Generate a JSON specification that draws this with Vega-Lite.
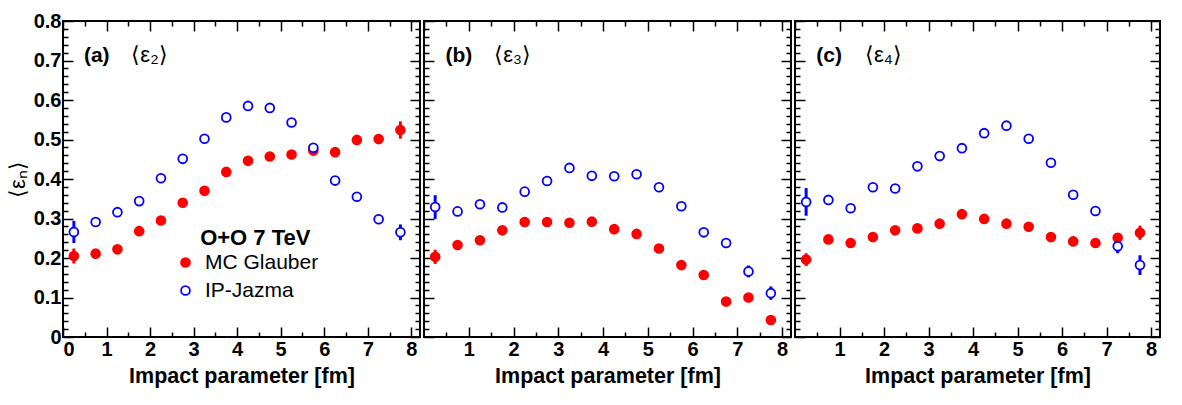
{
  "$schema": "https://vega.github.io/schema/vega-lite/v6.json",
  "background": "white",
  "padding": {"left": 5, "top": 10, "right": 5, "bottom": 5},
  "spacing": 0,
  "datasets": {
    "pts": [
      {"panel":"a","model":"MC Glauber","b":0.25,"eps":0.205,"lo":0.186,"hi":0.224},
      {"panel":"a","model":"MC Glauber","b":0.75,"eps":0.211,"lo":0.207,"hi":0.215},
      {"panel":"a","model":"MC Glauber","b":1.25,"eps":0.222,"lo":0.218,"hi":0.226},
      {"panel":"a","model":"MC Glauber","b":1.75,"eps":0.268,"lo":0.264,"hi":0.272},
      {"panel":"a","model":"MC Glauber","b":2.25,"eps":0.295,"lo":0.291,"hi":0.299},
      {"panel":"a","model":"MC Glauber","b":2.75,"eps":0.340,"lo":0.336,"hi":0.344},
      {"panel":"a","model":"MC Glauber","b":3.25,"eps":0.370,"lo":0.366,"hi":0.374},
      {"panel":"a","model":"MC Glauber","b":3.75,"eps":0.418,"lo":0.414,"hi":0.422},
      {"panel":"a","model":"MC Glauber","b":4.25,"eps":0.446,"lo":0.442,"hi":0.450},
      {"panel":"a","model":"MC Glauber","b":4.75,"eps":0.457,"lo":0.453,"hi":0.461},
      {"panel":"a","model":"MC Glauber","b":5.25,"eps":0.462,"lo":0.458,"hi":0.466},
      {"panel":"a","model":"MC Glauber","b":5.75,"eps":0.472,"lo":0.468,"hi":0.476},
      {"panel":"a","model":"MC Glauber","b":6.25,"eps":0.468,"lo":0.464,"hi":0.472},
      {"panel":"a","model":"MC Glauber","b":6.75,"eps":0.499,"lo":0.495,"hi":0.503},
      {"panel":"a","model":"MC Glauber","b":7.25,"eps":0.501,"lo":0.489,"hi":0.513},
      {"panel":"a","model":"MC Glauber","b":7.75,"eps":0.524,"lo":0.502,"hi":0.546},
      {"panel":"b","model":"MC Glauber","b":0.25,"eps":0.203,"lo":0.185,"hi":0.221},
      {"panel":"b","model":"MC Glauber","b":0.75,"eps":0.233,"lo":0.229,"hi":0.237},
      {"panel":"b","model":"MC Glauber","b":1.25,"eps":0.245,"lo":0.241,"hi":0.249},
      {"panel":"b","model":"MC Glauber","b":1.75,"eps":0.270,"lo":0.266,"hi":0.274},
      {"panel":"b","model":"MC Glauber","b":2.25,"eps":0.291,"lo":0.287,"hi":0.295},
      {"panel":"b","model":"MC Glauber","b":2.75,"eps":0.291,"lo":0.287,"hi":0.295},
      {"panel":"b","model":"MC Glauber","b":3.25,"eps":0.289,"lo":0.285,"hi":0.293},
      {"panel":"b","model":"MC Glauber","b":3.75,"eps":0.292,"lo":0.288,"hi":0.296},
      {"panel":"b","model":"MC Glauber","b":4.25,"eps":0.273,"lo":0.269,"hi":0.277},
      {"panel":"b","model":"MC Glauber","b":4.75,"eps":0.261,"lo":0.257,"hi":0.265},
      {"panel":"b","model":"MC Glauber","b":5.25,"eps":0.224,"lo":0.220,"hi":0.228},
      {"panel":"b","model":"MC Glauber","b":5.75,"eps":0.182,"lo":0.178,"hi":0.186},
      {"panel":"b","model":"MC Glauber","b":6.25,"eps":0.157,"lo":0.153,"hi":0.161},
      {"panel":"b","model":"MC Glauber","b":6.75,"eps":0.090,"lo":0.086,"hi":0.094},
      {"panel":"b","model":"MC Glauber","b":7.25,"eps":0.100,"lo":0.096,"hi":0.104},
      {"panel":"b","model":"MC Glauber","b":7.75,"eps":0.043,"lo":0.039,"hi":0.047},
      {"panel":"c","model":"MC Glauber","b":0.25,"eps":0.196,"lo":0.180,"hi":0.212},
      {"panel":"c","model":"MC Glauber","b":0.75,"eps":0.247,"lo":0.237,"hi":0.257},
      {"panel":"c","model":"MC Glauber","b":1.25,"eps":0.238,"lo":0.234,"hi":0.242},
      {"panel":"c","model":"MC Glauber","b":1.75,"eps":0.253,"lo":0.249,"hi":0.257},
      {"panel":"c","model":"MC Glauber","b":2.25,"eps":0.270,"lo":0.266,"hi":0.274},
      {"panel":"c","model":"MC Glauber","b":2.75,"eps":0.275,"lo":0.271,"hi":0.279},
      {"panel":"c","model":"MC Glauber","b":3.25,"eps":0.287,"lo":0.283,"hi":0.291},
      {"panel":"c","model":"MC Glauber","b":3.75,"eps":0.311,"lo":0.307,"hi":0.315},
      {"panel":"c","model":"MC Glauber","b":4.25,"eps":0.299,"lo":0.295,"hi":0.303},
      {"panel":"c","model":"MC Glauber","b":4.75,"eps":0.287,"lo":0.283,"hi":0.291},
      {"panel":"c","model":"MC Glauber","b":5.25,"eps":0.279,"lo":0.275,"hi":0.283},
      {"panel":"c","model":"MC Glauber","b":5.75,"eps":0.253,"lo":0.249,"hi":0.257},
      {"panel":"c","model":"MC Glauber","b":6.25,"eps":0.242,"lo":0.238,"hi":0.246},
      {"panel":"c","model":"MC Glauber","b":6.75,"eps":0.238,"lo":0.234,"hi":0.242},
      {"panel":"c","model":"MC Glauber","b":7.25,"eps":0.251,"lo":0.243,"hi":0.259},
      {"panel":"c","model":"MC Glauber","b":7.75,"eps":0.264,"lo":0.246,"hi":0.282},
      {"panel":"a","model":"IP-Jazma","b":0.25,"eps":0.266,"lo":0.238,"hi":0.294},
      {"panel":"a","model":"IP-Jazma","b":0.75,"eps":0.291,"lo":0.287,"hi":0.295},
      {"panel":"a","model":"IP-Jazma","b":1.25,"eps":0.316,"lo":0.312,"hi":0.320},
      {"panel":"a","model":"IP-Jazma","b":1.75,"eps":0.344,"lo":0.340,"hi":0.348},
      {"panel":"a","model":"IP-Jazma","b":2.25,"eps":0.402,"lo":0.398,"hi":0.406},
      {"panel":"a","model":"IP-Jazma","b":2.75,"eps":0.451,"lo":0.447,"hi":0.455},
      {"panel":"a","model":"IP-Jazma","b":3.25,"eps":0.502,"lo":0.498,"hi":0.506},
      {"panel":"a","model":"IP-Jazma","b":3.75,"eps":0.556,"lo":0.552,"hi":0.560},
      {"panel":"a","model":"IP-Jazma","b":4.25,"eps":0.585,"lo":0.581,"hi":0.589},
      {"panel":"a","model":"IP-Jazma","b":4.75,"eps":0.580,"lo":0.576,"hi":0.584},
      {"panel":"a","model":"IP-Jazma","b":5.25,"eps":0.543,"lo":0.539,"hi":0.547},
      {"panel":"a","model":"IP-Jazma","b":5.75,"eps":0.479,"lo":0.475,"hi":0.483},
      {"panel":"a","model":"IP-Jazma","b":6.25,"eps":0.396,"lo":0.392,"hi":0.400},
      {"panel":"a","model":"IP-Jazma","b":6.75,"eps":0.355,"lo":0.351,"hi":0.359},
      {"panel":"a","model":"IP-Jazma","b":7.25,"eps":0.298,"lo":0.286,"hi":0.310},
      {"panel":"a","model":"IP-Jazma","b":7.75,"eps":0.265,"lo":0.245,"hi":0.285},
      {"panel":"b","model":"IP-Jazma","b":0.25,"eps":0.329,"lo":0.299,"hi":0.359},
      {"panel":"b","model":"IP-Jazma","b":0.75,"eps":0.318,"lo":0.309,"hi":0.327},
      {"panel":"b","model":"IP-Jazma","b":1.25,"eps":0.336,"lo":0.332,"hi":0.340},
      {"panel":"b","model":"IP-Jazma","b":1.75,"eps":0.328,"lo":0.324,"hi":0.332},
      {"panel":"b","model":"IP-Jazma","b":2.25,"eps":0.368,"lo":0.364,"hi":0.372},
      {"panel":"b","model":"IP-Jazma","b":2.75,"eps":0.395,"lo":0.391,"hi":0.399},
      {"panel":"b","model":"IP-Jazma","b":3.25,"eps":0.428,"lo":0.424,"hi":0.432},
      {"panel":"b","model":"IP-Jazma","b":3.75,"eps":0.408,"lo":0.404,"hi":0.412},
      {"panel":"b","model":"IP-Jazma","b":4.25,"eps":0.407,"lo":0.403,"hi":0.411},
      {"panel":"b","model":"IP-Jazma","b":4.75,"eps":0.412,"lo":0.408,"hi":0.416},
      {"panel":"b","model":"IP-Jazma","b":5.25,"eps":0.379,"lo":0.375,"hi":0.383},
      {"panel":"b","model":"IP-Jazma","b":5.75,"eps":0.331,"lo":0.327,"hi":0.335},
      {"panel":"b","model":"IP-Jazma","b":6.25,"eps":0.265,"lo":0.261,"hi":0.269},
      {"panel":"b","model":"IP-Jazma","b":6.75,"eps":0.238,"lo":0.234,"hi":0.242},
      {"panel":"b","model":"IP-Jazma","b":7.25,"eps":0.166,"lo":0.151,"hi":0.181},
      {"panel":"b","model":"IP-Jazma","b":7.75,"eps":0.111,"lo":0.094,"hi":0.128},
      {"panel":"c","model":"IP-Jazma","b":0.25,"eps":0.342,"lo":0.307,"hi":0.377},
      {"panel":"c","model":"IP-Jazma","b":0.75,"eps":0.347,"lo":0.337,"hi":0.357},
      {"panel":"c","model":"IP-Jazma","b":1.25,"eps":0.326,"lo":0.322,"hi":0.330},
      {"panel":"c","model":"IP-Jazma","b":1.75,"eps":0.379,"lo":0.375,"hi":0.383},
      {"panel":"c","model":"IP-Jazma","b":2.25,"eps":0.376,"lo":0.372,"hi":0.380},
      {"panel":"c","model":"IP-Jazma","b":2.75,"eps":0.432,"lo":0.428,"hi":0.436},
      {"panel":"c","model":"IP-Jazma","b":3.25,"eps":0.458,"lo":0.454,"hi":0.462},
      {"panel":"c","model":"IP-Jazma","b":3.75,"eps":0.478,"lo":0.474,"hi":0.482},
      {"panel":"c","model":"IP-Jazma","b":4.25,"eps":0.516,"lo":0.512,"hi":0.520},
      {"panel":"c","model":"IP-Jazma","b":4.75,"eps":0.535,"lo":0.531,"hi":0.539},
      {"panel":"c","model":"IP-Jazma","b":5.25,"eps":0.502,"lo":0.498,"hi":0.506},
      {"panel":"c","model":"IP-Jazma","b":5.75,"eps":0.441,"lo":0.437,"hi":0.445},
      {"panel":"c","model":"IP-Jazma","b":6.25,"eps":0.360,"lo":0.356,"hi":0.364},
      {"panel":"c","model":"IP-Jazma","b":6.75,"eps":0.319,"lo":0.307,"hi":0.331},
      {"panel":"c","model":"IP-Jazma","b":7.25,"eps":0.230,"lo":0.212,"hi":0.248},
      {"panel":"c","model":"IP-Jazma","b":7.75,"eps":0.182,"lo":0.157,"hi":0.207}
    ],
    "labels": [
      {"panel":"a","tag":"(a)","quantity":"⟨ε₂⟩"},
      {"panel":"b","tag":"(b)","quantity":"⟨ε₃⟩"},
      {"panel":"c","tag":"(c)","quantity":"⟨ε₄⟩"}
    ],
    "system": [{"text":"O+O 7 TeV"}]
  },
  "hconcat": [
    {
      "width": 357, "height": 316,
      "layer": [
        {
          "data": {"name": "pts"},
          "transform": [{"filter": "datum.panel === 'a' && datum.model === 'MC Glauber'"}],
          "mark": {"type": "rule", "color": "#ff0000", "strokeWidth": 3},
          "encoding": {
            "x": {"field": "b", "type": "quantitative", "scale": {"domain": [0, 8.2], "nice": false, "zero": false},
                  "axis": {"orient": "bottom", "values": [0.5,1.5,2.5,3.5,4.5,5.5,6.5,7.5], "tickSize": -5, "labels": false, "title": null}},
            "y": {"field": "lo", "type": "quantitative", "scale": {"domain": [0, 0.8], "nice": false},
                  "axis": {"orient": "left", "values": [0.02,0.04,0.06,0.08,0.12,0.14,0.16,0.18,0.22,0.24,0.26,0.28,0.32,0.34,0.36,0.38,0.42,0.44,0.46,0.48,0.52,0.54,0.56,0.58,0.62,0.64,0.66,0.68,0.72,0.74,0.76,0.78], "tickSize": -5, "labels": false, "title": null}},
            "y2": {"field": "hi"}
          }
        },
        {
          "data": {"name": "pts"},
          "transform": [{"filter": "datum.panel === 'a' && datum.model === 'IP-Jazma'"}],
          "mark": {"type": "rule", "color": "#0000ff", "strokeWidth": 3},
          "encoding": {
            "x": {"field": "b", "type": "quantitative", "scale": {"domain": [0, 8.2], "nice": false, "zero": false},
                  "axis": {"orient": "top", "values": [0.5,1.5,2.5,3.5,4.5,5.5,6.5,7.5], "tickSize": -5, "labels": false, "title": null}},
            "y": {"field": "lo", "type": "quantitative", "scale": {"domain": [0, 0.8], "nice": false},
                  "axis": {"orient": "right", "values": [0.02,0.04,0.06,0.08,0.12,0.14,0.16,0.18,0.22,0.24,0.26,0.28,0.32,0.34,0.36,0.38,0.42,0.44,0.46,0.48,0.52,0.54,0.56,0.58,0.62,0.64,0.66,0.68,0.72,0.74,0.76,0.78], "tickSize": -5, "labels": false, "title": null}},
            "y2": {"field": "hi"}
          }
        },
        {
          "data": {"name": "pts"},
          "transform": [{"filter": "datum.panel === 'a'"}],
          "mark": {"type": "point", "shape": "circle", "size": 78, "strokeWidth": 1.8, "opacity": 1, "fillOpacity": 1},
          "encoding": {
            "x": {"field": "b", "type": "quantitative", "scale": {"domain": [0, 8.2], "nice": false, "zero": false},
                  "axis": {"orient": "bottom", "values": [0,1,2,3,4,5,6,7,8], "tickSize": -10, "labelPadding": 12, "title": "Impact parameter [fm]"}},
            "y": {"field": "eps", "type": "quantitative", "scale": {"domain": [0, 0.8], "nice": false},
                  "axis": {"orient": "left", "values": [0,0.1,0.2,0.3,0.4,0.5,0.6,0.7,0.8], "tickSize": -10, "labelPadding": 12, "labelExpr": "datum.value === 0 ? '0' : format(datum.value, '.1f')", "title": "⟨εₙ⟩", "titleFontWeight": "normal", "titleFontSize": 22, "titlePadding": 4}},
            "fill": {"field": "model", "type": "nominal", "scale": {"domain": ["MC Glauber", "IP-Jazma"], "range": ["#ff0000", "#ffffff"]},
                     "legend": {"orient": "none", "legendX": 112, "legendY": 231, "title": null}},
            "stroke": {"field": "model", "type": "nominal", "scale": {"domain": ["MC Glauber", "IP-Jazma"], "range": ["#ff0000", "#0000ff"]},
                       "legend": {"orient": "none", "legendX": 112, "legendY": 231, "title": null}},
            "order": {"field": "model", "sort": "descending"}
          }
        },
        {
          "data": {"name": "labels"},
          "transform": [{"filter": "datum.panel === 'a'"}],
          "mark": {"type": "text", "align": "left", "baseline": "alphabetic", "fontWeight": "bold", "fontSize": 21, "font": "Liberation Sans", "color": "black"},
          "encoding": {
            "x": {"datum": 0.48, "type": "quantitative", "scale": {"domain": [0, 8.2], "nice": false, "zero": false},
                  "axis": {"orient": "top", "values": [0,1,2,3,4,5,6,7,8], "tickSize": -10, "labels": false, "title": null}},
            "y": {"datum": 0.696, "type": "quantitative", "scale": {"domain": [0, 0.8], "nice": false},
                  "axis": {"orient": "right", "values": [0,0.1,0.2,0.3,0.4,0.5,0.6,0.7,0.8], "tickSize": -10, "labels": false, "title": null}},
            "text": {"field": "tag"}
          }
        },
        {
          "data": {"name": "labels"},
          "transform": [{"filter": "datum.panel === 'a'"}],
          "mark": {"type": "text", "align": "left", "baseline": "alphabetic", "fontSize": 22, "font": "Liberation Sans", "color": "black"},
          "encoding": {
            "x": {"datum": 1.57, "type": "quantitative", "axis": null},
            "y": {"datum": 0.696, "type": "quantitative", "axis": null},
            "text": {"field": "quantity"}
          }
        },
        {
          "data": {"name": "system"},
          "mark": {"type": "text", "align": "left", "baseline": "alphabetic", "fontWeight": "bold", "fontSize": 22, "font": "Liberation Sans", "color": "black"},
          "encoding": {
            "x": {"datum": 3.15, "type": "quantitative", "axis": null},
            "y": {"datum": 0.233, "type": "quantitative", "axis": null},
            "text": {"field": "text"}
          }
        }
      ],
      "resolve": {"axis": {"x": "independent", "y": "independent"}}
    },
    {
      "width": 367, "height": 316,
      "layer": [
        {
          "data": {"name": "pts"},
          "transform": [{"filter": "datum.panel === 'b' && datum.model === 'MC Glauber'"}],
          "mark": {"type": "rule", "color": "#ff0000", "strokeWidth": 3},
          "encoding": {
            "x": {"field": "b", "type": "quantitative", "scale": {"domain": [0, 8.2], "nice": false, "zero": false},
                  "axis": {"orient": "bottom", "values": [0.5,1.5,2.5,3.5,4.5,5.5,6.5,7.5], "tickSize": -5, "labels": false, "title": null}},
            "y": {"field": "lo", "type": "quantitative", "scale": {"domain": [0, 0.8], "nice": false},
                  "axis": {"orient": "left", "values": [0.02,0.04,0.06,0.08,0.12,0.14,0.16,0.18,0.22,0.24,0.26,0.28,0.32,0.34,0.36,0.38,0.42,0.44,0.46,0.48,0.52,0.54,0.56,0.58,0.62,0.64,0.66,0.68,0.72,0.74,0.76,0.78], "tickSize": -5, "labels": false, "title": null}},
            "y2": {"field": "hi"}
          }
        },
        {
          "data": {"name": "pts"},
          "transform": [{"filter": "datum.panel === 'b' && datum.model === 'IP-Jazma'"}],
          "mark": {"type": "rule", "color": "#0000ff", "strokeWidth": 3},
          "encoding": {
            "x": {"field": "b", "type": "quantitative", "scale": {"domain": [0, 8.2], "nice": false, "zero": false},
                  "axis": {"orient": "top", "values": [0.5,1.5,2.5,3.5,4.5,5.5,6.5,7.5], "tickSize": -5, "labels": false, "title": null}},
            "y": {"field": "lo", "type": "quantitative", "scale": {"domain": [0, 0.8], "nice": false},
                  "axis": {"orient": "right", "values": [0.02,0.04,0.06,0.08,0.12,0.14,0.16,0.18,0.22,0.24,0.26,0.28,0.32,0.34,0.36,0.38,0.42,0.44,0.46,0.48,0.52,0.54,0.56,0.58,0.62,0.64,0.66,0.68,0.72,0.74,0.76,0.78], "tickSize": -5, "labels": false, "title": null}},
            "y2": {"field": "hi"}
          }
        },
        {
          "data": {"name": "pts"},
          "transform": [{"filter": "datum.panel === 'b'"}],
          "mark": {"type": "point", "shape": "circle", "size": 78, "strokeWidth": 1.8, "opacity": 1, "fillOpacity": 1},
          "encoding": {
            "x": {"field": "b", "type": "quantitative", "scale": {"domain": [0, 8.2], "nice": false, "zero": false},
                  "axis": {"orient": "bottom", "values": [1,2,3,4,5,6,7,8], "tickSize": -10, "labelPadding": 12, "title": "Impact parameter [fm]"}},
            "y": {"field": "eps", "type": "quantitative", "scale": {"domain": [0, 0.8], "nice": false},
                  "axis": {"orient": "left", "values": [0,0.1,0.2,0.3,0.4,0.5,0.6,0.7,0.8], "tickSize": -10, "labels": false, "title": null}},
            "fill": {"field": "model", "type": "nominal", "scale": {"domain": ["MC Glauber", "IP-Jazma"], "range": ["#ff0000", "#ffffff"]}, "legend": null},
            "stroke": {"field": "model", "type": "nominal", "scale": {"domain": ["MC Glauber", "IP-Jazma"], "range": ["#ff0000", "#0000ff"]}, "legend": null},
            "order": {"field": "model", "sort": "descending"}
          }
        },
        {
          "data": {"name": "labels"},
          "transform": [{"filter": "datum.panel === 'b'"}],
          "mark": {"type": "text", "align": "left", "baseline": "alphabetic", "fontWeight": "bold", "fontSize": 21, "font": "Liberation Sans", "color": "black"},
          "encoding": {
            "x": {"datum": 0.48, "type": "quantitative", "scale": {"domain": [0, 8.2], "nice": false, "zero": false},
                  "axis": {"orient": "top", "values": [0,1,2,3,4,5,6,7,8], "tickSize": -10, "labels": false, "title": null}},
            "y": {"datum": 0.696, "type": "quantitative", "scale": {"domain": [0, 0.8], "nice": false},
                  "axis": {"orient": "right", "values": [0,0.1,0.2,0.3,0.4,0.5,0.6,0.7,0.8], "tickSize": -10, "labels": false, "title": null}},
            "text": {"field": "tag"}
          }
        },
        {
          "data": {"name": "labels"},
          "transform": [{"filter": "datum.panel === 'b'"}],
          "mark": {"type": "text", "align": "left", "baseline": "alphabetic", "fontSize": 22, "font": "Liberation Sans", "color": "black"},
          "encoding": {
            "x": {"datum": 1.57, "type": "quantitative", "axis": null},
            "y": {"datum": 0.696, "type": "quantitative", "axis": null},
            "text": {"field": "quantity"}
          }
        }
      ],
      "resolve": {"axis": {"x": "independent", "y": "independent"}}
    },
    {
      "width": 365, "height": 316,
      "layer": [
        {
          "data": {"name": "pts"},
          "transform": [{"filter": "datum.panel === 'c' && datum.model === 'MC Glauber'"}],
          "mark": {"type": "rule", "color": "#ff0000", "strokeWidth": 3},
          "encoding": {
            "x": {"field": "b", "type": "quantitative", "scale": {"domain": [0, 8.2], "nice": false, "zero": false},
                  "axis": {"orient": "bottom", "values": [0.5,1.5,2.5,3.5,4.5,5.5,6.5,7.5], "tickSize": -5, "labels": false, "title": null}},
            "y": {"field": "lo", "type": "quantitative", "scale": {"domain": [0, 0.8], "nice": false},
                  "axis": {"orient": "left", "values": [0.02,0.04,0.06,0.08,0.12,0.14,0.16,0.18,0.22,0.24,0.26,0.28,0.32,0.34,0.36,0.38,0.42,0.44,0.46,0.48,0.52,0.54,0.56,0.58,0.62,0.64,0.66,0.68,0.72,0.74,0.76,0.78], "tickSize": -5, "labels": false, "title": null}},
            "y2": {"field": "hi"}
          }
        },
        {
          "data": {"name": "pts"},
          "transform": [{"filter": "datum.panel === 'c' && datum.model === 'IP-Jazma'"}],
          "mark": {"type": "rule", "color": "#0000ff", "strokeWidth": 3},
          "encoding": {
            "x": {"field": "b", "type": "quantitative", "scale": {"domain": [0, 8.2], "nice": false, "zero": false},
                  "axis": {"orient": "top", "values": [0.5,1.5,2.5,3.5,4.5,5.5,6.5,7.5], "tickSize": -5, "labels": false, "title": null}},
            "y": {"field": "lo", "type": "quantitative", "scale": {"domain": [0, 0.8], "nice": false},
                  "axis": {"orient": "right", "values": [0.02,0.04,0.06,0.08,0.12,0.14,0.16,0.18,0.22,0.24,0.26,0.28,0.32,0.34,0.36,0.38,0.42,0.44,0.46,0.48,0.52,0.54,0.56,0.58,0.62,0.64,0.66,0.68,0.72,0.74,0.76,0.78], "tickSize": -5, "labels": false, "title": null}},
            "y2": {"field": "hi"}
          }
        },
        {
          "data": {"name": "pts"},
          "transform": [{"filter": "datum.panel === 'c'"}],
          "mark": {"type": "point", "shape": "circle", "size": 78, "strokeWidth": 1.8, "opacity": 1, "fillOpacity": 1},
          "encoding": {
            "x": {"field": "b", "type": "quantitative", "scale": {"domain": [0, 8.2], "nice": false, "zero": false},
                  "axis": {"orient": "bottom", "values": [1,2,3,4,5,6,7,8], "tickSize": -10, "labelPadding": 12, "title": "Impact parameter [fm]"}},
            "y": {"field": "eps", "type": "quantitative", "scale": {"domain": [0, 0.8], "nice": false},
                  "axis": {"orient": "left", "values": [0,0.1,0.2,0.3,0.4,0.5,0.6,0.7,0.8], "tickSize": -10, "labels": false, "title": null}},
            "fill": {"field": "model", "type": "nominal", "scale": {"domain": ["MC Glauber", "IP-Jazma"], "range": ["#ff0000", "#ffffff"]}, "legend": null},
            "stroke": {"field": "model", "type": "nominal", "scale": {"domain": ["MC Glauber", "IP-Jazma"], "range": ["#ff0000", "#0000ff"]}, "legend": null},
            "order": {"field": "model", "sort": "descending"}
          }
        },
        {
          "data": {"name": "labels"},
          "transform": [{"filter": "datum.panel === 'c'"}],
          "mark": {"type": "text", "align": "left", "baseline": "alphabetic", "fontWeight": "bold", "fontSize": 21, "font": "Liberation Sans", "color": "black"},
          "encoding": {
            "x": {"datum": 0.48, "type": "quantitative", "scale": {"domain": [0, 8.2], "nice": false, "zero": false},
                  "axis": {"orient": "top", "values": [0,1,2,3,4,5,6,7,8], "tickSize": -10, "labels": false, "title": null}},
            "y": {"datum": 0.696, "type": "quantitative", "scale": {"domain": [0, 0.8], "nice": false},
                  "axis": {"orient": "right", "values": [0,0.1,0.2,0.3,0.4,0.5,0.6,0.7,0.8], "tickSize": -10, "labels": false, "title": null}},
            "text": {"field": "tag"}
          }
        },
        {
          "data": {"name": "labels"},
          "transform": [{"filter": "datum.panel === 'c'"}],
          "mark": {"type": "text", "align": "left", "baseline": "alphabetic", "fontSize": 22, "font": "Liberation Sans", "color": "black"},
          "encoding": {
            "x": {"datum": 1.57, "type": "quantitative", "axis": null},
            "y": {"datum": 0.696, "type": "quantitative", "axis": null},
            "text": {"field": "quantity"}
          }
        }
      ],
      "resolve": {"axis": {"x": "independent", "y": "independent"}}
    }
  ],
  "config": {
    "font": "Liberation Sans",
    "view": {"stroke": "black", "strokeWidth": 2},
    "concat": {"spacing": 0},
    "axis": {
      "domain": false, "grid": false, "ticks": true, "tickColor": "black", "tickWidth": 1.5,
      "labelFont": "Liberation Sans", "labelFontSize": 20, "labelFontWeight": "bold", "labelColor": "black", "labelPadding": 3,
      "titleFont": "Liberation Sans", "titleFontSize": 21.5, "titleFontWeight": "bold", "titleColor": "black", "titlePadding": 6
    },
    "legend": {
      "labelFont": "Liberation Sans", "labelFontSize": 21, "labelColor": "black",
      "symbolType": "circle", "symbolSize": 78, "symbolStrokeWidth": 1.8, "rowPadding": 6, "labelOffset": 9
    }
  }
}
